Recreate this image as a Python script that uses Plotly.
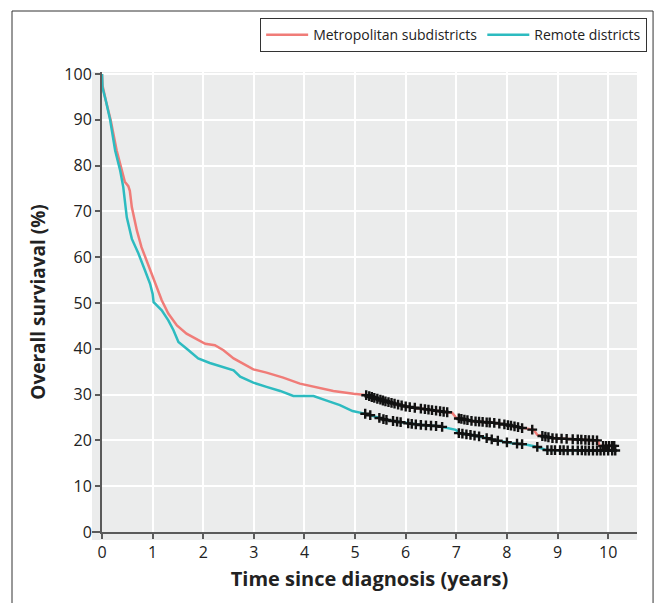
import numpy as np
import plotly.graph_objects as go

# ---------------- data ----------------
metro_time = [0, 0.01, 0.08, 0.17, 0.29, 0.37, 0.42, 0.45, 0.52, 0.55, 0.59, 0.69, 0.78, 0.88,
              0.98, 1.08, 1.18, 1.31, 1.48, 1.67, 1.87, 2.04, 2.23, 2.40, 2.60, 2.79, 2.99, 3.25,
              3.58, 3.91, 4.24, 4.57, 4.97, 5.21, 5.61, 6.0, 6.46, 6.92, 7.0, 7.32, 7.78, 8.1,
              8.3, 8.53, 8.6, 8.9, 9.55, 9.8, 9.83, 10.14]
metro_surv = [100, 97.5, 94, 90, 83.3, 80, 78, 76.5, 75.5, 74.5, 70.9, 65.8, 62.2, 59.3,
              56.4, 53.5, 50.6, 47.7, 45.1, 43.3, 42.2, 41.1, 40.8, 39.7, 37.9, 36.8, 35.5, 34.8,
              33.7, 32.4, 31.6, 30.8, 30.2, 29.9, 28.5, 27.4, 26.7, 26.0, 24.9, 24.2, 23.8, 23.2,
              22.7, 22.3, 21.2, 20.5, 20.1, 20.0, 18.8, 18.8]

remote_time = [0, 0.01, 0.08, 0.16, 0.26, 0.34, 0.36, 0.42, 0.49, 0.59, 0.72, 0.85, 0.95, 1.0,
               1.02, 1.18, 1.31, 1.41, 1.51, 1.71, 1.90, 2.13, 2.37, 2.60, 2.73, 2.99, 3.25,
               3.52, 3.78, 4.18, 4.44, 4.70, 4.95, 5.21, 5.6, 6.0, 6.26, 6.66, 6.99, 7.05, 7.45,
               7.78, 8.1, 8.37, 8.63, 8.76, 9.55, 10.14]
remote_surv = [100, 97, 94, 90, 83.3, 80, 78.9, 75.3, 68.7, 64.0, 60.8, 57.1, 54.2, 52,
               50.2, 48.4, 46.2, 44.1, 41.5, 39.7, 37.9, 36.9, 36.1, 35.3, 33.9, 32.6, 31.7,
               30.8, 29.7, 29.7, 28.7, 27.7, 26.4, 25.8, 24.5, 23.8, 23.4, 23.1, 22.3, 21.6, 20.9,
               20.0, 19.4, 19.1, 18.5, 17.9, 17.8, 17.8]

metro_censor = [5.22, 5.28, 5.33, 5.38, 5.44, 5.5, 5.55, 5.6, 5.66, 5.72, 5.78, 5.85, 5.92, 6.0,
                6.08, 6.18, 6.3, 6.38, 6.45, 6.52, 6.6, 6.68, 6.75, 6.82, 7.05, 7.1, 7.16, 7.22,
                7.3, 7.38, 7.45, 7.52, 7.6, 7.66, 7.75, 7.85, 7.95, 8.02, 8.08, 8.15, 8.22, 8.3,
                8.5, 8.7, 8.76, 8.82, 8.9, 8.98, 9.08, 9.18, 9.3, 9.4, 9.47, 9.55, 9.62, 9.7,
                9.78, 9.9, 9.96, 10.02, 10.08, 10.12]
remote_censor = [5.2, 5.3, 5.48, 5.56, 5.62, 5.75, 5.83, 5.9, 6.05, 6.12, 6.2, 6.3, 6.4, 6.5,
                 6.6, 6.72, 7.05, 7.12, 7.2, 7.28, 7.36, 7.45, 7.6, 7.7, 7.82, 8.0, 8.2, 8.3,
                 8.6, 8.8, 8.88, 8.95, 9.05, 9.12, 9.2, 9.3, 9.4, 9.48, 9.55, 9.62, 9.7, 9.78,
                 9.85, 9.92, 10.0, 10.08, 10.14]

x_ticks = list(range(0, 11))
y_ticks = list(range(0, 101, 10))

series_names = ["Metropolitan subdistricts", "Remote districts"]
series_colors = ["#F07C78", "#2DBBC0"]

# ---------------- figure ----------------
fig = go.Figure()
curves = [(metro_time, metro_surv, metro_censor), (remote_time, remote_surv, remote_censor)]
for (t, s, c), name, col in zip(curves, series_names, series_colors):
    fig.add_trace(go.Scatter(x=t, y=s, mode="lines", name=name,
                             line=dict(color=col, width=2.5)))
for (t, s, c), name, col in zip(curves, series_names, series_colors):
    fig.add_trace(go.Scatter(x=c, y=np.interp(c, t, s), mode="markers", showlegend=False,
                             marker=dict(symbol="cross-thin", size=7,
                                         line=dict(width=2.4, color="#111111")),
                             hoverinfo="skip"))

axis_col = "#5a5a5a"
font_family = "Open Sans, Lato, Arial, sans-serif"

fig.update_layout(
    width=657, height=603,
    margin=dict(l=102, r=20, t=72, b=71, autoexpand=False),
    paper_bgcolor="white",
    plot_bgcolor="rgba(0,0,0,0)",
    font=dict(family=font_family, size=16, color="#222222"),
    legend=dict(orientation="h", xref="container", yref="container",
                x=0.985, xanchor="right", y=0.97, yanchor="top",
                bordercolor="#333333", borderwidth=1, bgcolor="white",
                font=dict(size=14, color="#222222"), itemwidth=42,
                traceorder="normal"),
    xaxis=dict(range=[0, 10.57], tickvals=x_ticks, showgrid=True, gridcolor="white",
               gridwidth=1.5, zeroline=False, showline=True, linecolor=axis_col,
               linewidth=2, ticks="outside", ticklen=5, tickwidth=2, tickcolor=axis_col,
               automargin=False,
               title=dict(text="<b>Time since diagnosis (years)</b>",
                          font=dict(size=20, color="#222222"), standoff=10)),
    yaxis=dict(range=[0, 100.44], tickvals=y_ticks, showgrid=True, gridcolor="white",
               gridwidth=1.5, zeroline=False, showline=True, linecolor=axis_col,
               linewidth=2, ticks="outside", ticklen=5, tickwidth=2, tickcolor=axis_col,
               automargin=False,
               title=dict(text="<b>Overall surviaval (%)</b>",
                          font=dict(size=19, color="#222222"), standoff=14)),
    shapes=[
        dict(type="rect", xref="paper", yref="paper", x0=-0.0187, x1=1, y0=-0.0174, y1=1,
             fillcolor="#EBECEC", line=dict(width=0), layer="below"),
        dict(type="line", xref="paper", yref="paper", x0=-0.0187, x1=0, y0=0, y1=0,
             line=dict(color=axis_col, width=2), layer="above"),
        dict(type="rect", xref="paper", yref="paper", x0=-0.1682, x1=1.03, y0=-0.2, y1=1.1326,
             fillcolor="rgba(0,0,0,0)", line=dict(color="#333333", width=1), layer="above"),
    ],
)

fig.write_html("out.html", config={"displayModeBar": False},
               post_script="document.body.style.margin='0';")
